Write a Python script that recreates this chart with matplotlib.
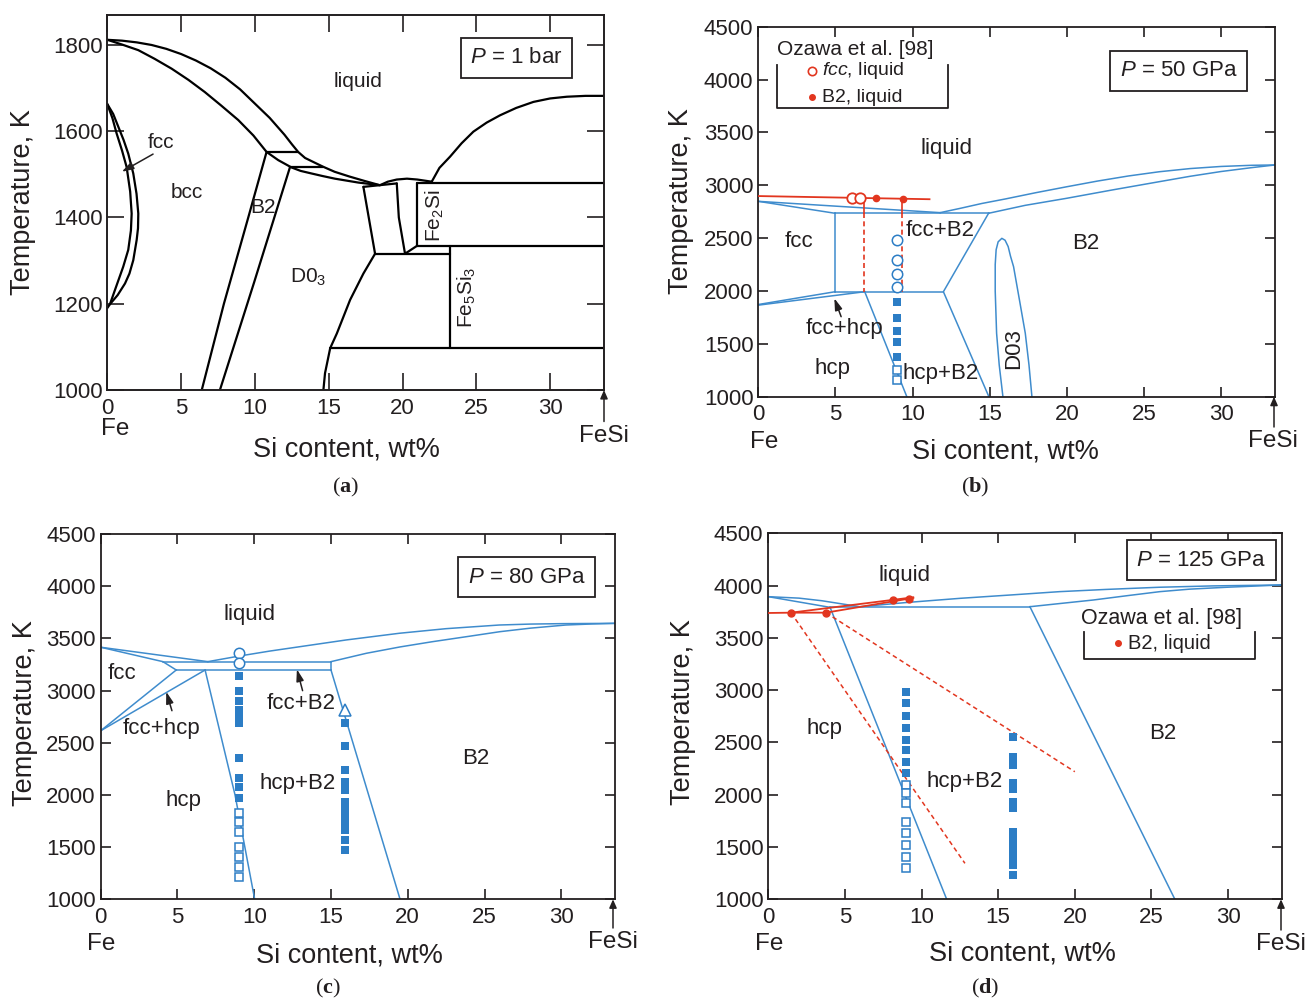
import matplotlib
matplotlib.use("Agg")
import matplotlib.pyplot as plt

plt.rcParams["font.family"] = ["Liberation Sans", "DejaVu Sans"]
plt.rcParams["mathtext.fontset"] = "custom"
plt.rcParams["mathtext.rm"] = "Liberation Sans"
plt.rcParams["mathtext.it"] = "Liberation Sans:italic"
plt.rcParams["mathtext.bf"] = "Liberation Serif:bold"

TXT = "#231f20"
BLUE = "#3f8ccd"
MBLUE = "#2c7dc5"
RED = "#e2361f"

x_ticks = [0, 5, 10, 15, 20, 25, 30]

# ---------------- (a) P = 1 bar ----------------
a_T_ticks = [1000, 1200, 1400, 1600, 1800]
a_liquidus_fe_x = [0, 1, 2, 3, 4, 5, 6, 7, 8, 9, 10, 11, 12, 12.5, 12.93, 13.4, 14.0, 14.6, 15.4, 16.4, 17.4, 18.45]
a_liquidus_fe_T = [1812, 1810, 1806, 1800, 1791, 1779, 1764, 1746, 1724, 1697, 1664, 1631, 1592, 1570, 1552, 1538, 1528, 1518, 1506, 1495, 1485, 1475]
a_solidus_x = [0, 1.0, 2.1, 3.2, 4.36, 5.5, 6.6, 7.7, 8.87, 9.9, 10.79, 11.58, 12.48, 13.1, 13.84, 14.6, 15.42, 17.0, 18.45]
a_solidus_T = [1812, 1801, 1788, 1768, 1745, 1719, 1691, 1660, 1626, 1590, 1552, 1533, 1516, 1508, 1502, 1496, 1490, 1481, 1475]
a_gamma_outer_x = [0, 0.4, 0.75, 1.1, 1.42, 1.76, 1.98, 2.10, 2.08, 1.99, 1.76, 1.5, 1.2, 0.7, 0.18, 0]
a_gamma_outer_T = [1663, 1640, 1610, 1580, 1548, 1502, 1455, 1409, 1375, 1348, 1301, 1270, 1247, 1220, 1199, 1190]
a_gamma_inner_x = [0, 0.35, 0.63, 1.0, 1.31, 1.55, 1.65, 1.6, 1.42, 1.08, 0.52, 0.18]
a_gamma_inner_T = [1663, 1630, 1595, 1555, 1517, 1460, 1409, 1370, 1325, 1286, 1232, 1199]
a_bcc_b2_x = [10.79, 9.55, 7.9, 6.40]
a_bcc_b2_T = [1552, 1400, 1200, 1000]
a_b2_d03_x = [12.37, 9.95, 7.63]
a_b2_d03_T = [1516, 1250, 1000]
a_tie_upper_x = [10.79, 12.93]
a_tie_upper_T = [1552, 1552]
a_tie_lower_x = [12.37, 14.6]
a_tie_lower_T = [1516, 1516]
a_d03_edge_x = [18.14, 17.35, 16.45, 15.55, 15.1, 14.75, 14.64]
a_d03_edge_T = [1316, 1270, 1209, 1131, 1097, 1039, 1000]
a_dome_x = [18.48, 19.0, 19.61, 20.3, 21.0, 21.98]
a_dome_T = [1475, 1483, 1488, 1490, 1488, 1483]
a_liquidus_si_x = [21.98, 22.5, 23.22, 24.0, 24.8, 25.7, 26.61, 27.7, 28.87, 30.0, 31.13, 32.4, 33.65]
a_liquidus_si_T = [1483, 1515, 1541, 1572, 1599, 1620, 1637, 1654, 1668, 1676, 1680, 1682, 1682]
a_quad_left_x = [17.35, 18.14]
a_quad_left_T = [1471, 1316]
a_quad_top_x = [17.35, 19.61]
a_quad_top_T = [1471, 1479]
a_quad_right_x = [19.61, 19.75, 20.17, 20.97]
a_quad_right_T = [1479, 1400, 1316, 1334]
a_fe2si_left_x = [20.97, 20.97]
a_fe2si_left_T = [1334, 1480]
a_fe2si_top_x = [20.97, 33.65]
a_fe2si_top_T = [1480, 1480]
a_fe2si_bottom_x = [20.97, 33.65]
a_fe2si_bottom_T = [1334, 1334]
a_eutectoid_x = [18.14, 23.22]
a_eutectoid_T = [1316, 1316]
a_fe5si3_x = [23.22, 23.22]
a_fe5si3_T = [1334, 1097]
a_low_x = [15.1, 33.65]
a_low_T = [1097, 1097]

# ---------------- (b) P = 50 GPa ----------------
hp_T_ticks = [1000, 1500, 2000, 2500, 3000, 3500, 4000, 4500]
b_fcc_liq_x = [0, 11.79]
b_fcc_liq_T = [2848, 2741]
b_fcc_sol_x = [0, 4.98]
b_fcc_sol_T = [2848, 2735]
b_b2_liq_x = [11.79, 13.1, 14.5, 16, 18, 20, 22, 24, 26, 28, 30, 32, 33.5]
b_b2_liq_T = [2741, 2782, 2828, 2870, 2930, 2986, 3040, 3088, 3128, 3158, 3178, 3189, 3192]
b_b2_sol_x = [14.93, 17.3, 20, 23, 26, 28, 30, 32, 33.5]
b_b2_sol_T = [2735, 2810, 2877, 2957, 3034, 3085, 3130, 3167, 3192]
b_eutectic_x = [4.98, 14.93]
b_eutectic_T = [2735, 2735]
b_fcc_edge_x = [4.98, 4.98]
b_fcc_edge_T = [2735, 1993]
b_b2_edge_x = [14.93, 12.0, 14.95]
b_b2_edge_T = [2735, 1993, 1000]
b_eutectoid_x = [4.98, 12.0]
b_eutectoid_T = [1993, 1993]
b_fcc_hcp_upper_x = [0, 4.98]
b_fcc_hcp_upper_T = [1872, 1993]
b_fcc_hcp_lower_x = [0, 6.9]
b_fcc_hcp_lower_T = [1866, 1993]
b_hcp_edge_x = [6.9, 9.63]
b_hcp_edge_T = [1993, 1000]
b_d03_x = [15.86, 15.62, 15.45, 15.36, 15.36, 15.42, 15.55, 15.79, 16.0, 16.2, 16.35, 16.55, 16.95, 17.31, 17.55, 17.74]
b_d03_T = [1000, 1300, 1600, 2000, 2250, 2390, 2465, 2498, 2480, 2420, 2330, 2230, 1900, 1600, 1300, 1000]
b_red_liq_x = [0, 11.1]
b_red_liq_T = [2898, 2868]
b_red_open_x = [6.06, 6.6]
b_red_open_T = [2880, 2879]
b_red_dot_x = [7.62, 9.41]
b_red_dot_T = [2877, 2873]
b_red_drop_x = [6.85, 9.3]
b_red_drop_T = [2878, 2735, 1993]
b_sample_x = 9.0
b_open_circle_T = [2482, 2293, 2161, 2035]
b_filled_square_T = [1895, 1742, 1618, 1518, 1378]
b_open_square_T = [1252, 1155]

# ---------------- (c) P = 80 GPa ----------------
c_fcc_liq_x = [0, 6.98]
c_fcc_liq_T = [3415, 3277]
c_fcc_sol_x = [0, 4.05, 4.92]
c_fcc_sol_T = [3415, 3277, 3197]
c_fcc_b2_top_x = [4.05, 15.0]
c_fcc_b2_top_T = [3277, 3277]
c_fcc_b2_bottom_x = [4.92, 15.0]
c_fcc_b2_bottom_T = [3197, 3197]
c_b2_step_x = [15.0, 15.0]
c_b2_step_T = [3197, 3277]
c_b2_liq_x = [6.98, 9, 11, 12.96, 16, 19.46, 22.5, 25.96, 28, 30, 33.5]
c_b2_liq_T = [3277, 3330, 3378, 3420, 3485, 3549, 3593, 3628, 3637, 3641, 3644]
c_b2_sol_x = [15.0, 17.3, 19.5, 21.6, 24, 26, 28, 30.3, 32, 33.5]
c_b2_sol_T = [3277, 3357, 3418, 3468, 3520, 3564, 3598, 3628, 3638, 3644]
c_fcc_hcp_upper_x = [0, 4.92]
c_fcc_hcp_upper_T = [2615, 3197]
c_fcc_hcp_lower_x = [0, 6.8]
c_fcc_hcp_lower_T = [2615, 3197]
c_hcp_edge_x = [6.8, 8.75, 10.03]
c_hcp_edge_T = [3197, 2000, 1000]
c_b2_edge_x = [15.0, 19.5]
c_b2_edge_T = [3197, 1000]
c_sample9_x = 9.0
c_open_circle_T = [3357, 3261]
c_filled9_T = [3143, 2996, 2900, 2814, 2744, 2686, 2351, 2159, 2073, 1968]
c_open9_T = [1824, 1743, 1648, 1498, 1408, 1307, 1217]
c_sample16_x = 15.9
c_triangle_T = [2814]
c_filled16_T = [2686, 2469, 2239, 2127, 2047, 1935, 1856, 1808, 1743, 1664, 1568, 1472]

# ---------------- (d) P = 125 GPa ----------------
d_hcp_liq_x = [0, 2.0, 3.5, 4.8, 5.98]
d_hcp_liq_T = [3894, 3880, 3855, 3825, 3798]
d_hcp_sol_x = [0, 4.03]
d_hcp_sol_T = [3894, 3792]
d_eutectic_x = [4.03, 17.07]
d_eutectic_T = [3798, 3798]
d_b2_liq_x = [5.98, 9, 12.5, 16, 19, 22, 25.5, 29, 33.5]
d_b2_liq_T = [3798, 3838, 3878, 3912, 3942, 3963, 3984, 3997, 4006]
d_b2_sol_x = [17.07, 19, 21.2, 23.5, 25.55, 27.5, 29.9, 33.5]
d_b2_sol_T = [3798, 3828, 3862, 3905, 3942, 3966, 3984, 4006]
d_hcp_edge_x = [4.03, 11.64]
d_hcp_edge_T = [3792, 1000]
d_b2_edge_x = [17.07, 26.53]
d_b2_edge_T = [3798, 1000]
d_red_flat_x = [0, 1.48, 3.76]
d_red_flat_T = [3738, 3741, 3741]
d_red_rise_a_x = [1.48, 9.46]
d_red_rise_a_T = [3741, 3888]
d_red_rise_b_x = [3.76, 9.46]
d_red_rise_b_T = [3741, 3882]
d_red_dot_x = [1.48, 3.76, 8.15, 9.2]
d_red_dot_T = [3741, 3741, 3866, 3872]
d_red_dash_a_x = [1.48, 12.83]
d_red_dash_a_T = [3741, 1344]
d_red_dash_b_x = [3.76, 20.0]
d_red_dash_b_T = [3741, 2220]
d_sample9_x = 9.0
d_filled9_T = [2985, 2880, 2753, 2635, 2523, 2428, 2316, 2205]
d_open9_T = [2093, 2014, 1918, 1742, 1637, 1519, 1407, 1302]
d_sample16_x = 15.94
d_filled16_T = [2555, 2364, 2284, 2109, 2050, 1933, 1870, 1646, 1583, 1519, 1455, 1392, 1328, 1232]

W, H = 1307, 1002
fig = plt.figure(figsize=(W / 100, H / 100), dpi=100)
fig.patch.set_facecolor("white")


def pbox(l, r, t, b):
    return [l / W, 1 - b / H, (r - l) / W, (b - t) / H]


def ftext(px, py, s, **kw):
    kw.setdefault("color", TXT)
    fig.text(px / W, 1 - py / H, s, **kw)


def farrow(px, py_tail, py_tip):
    fig.add_artist(matplotlib.patches.FancyArrowPatch(
        (px / W, 1 - py_tail / H), (px / W, 1 - py_tip / H),
        transform=fig.transFigure, arrowstyle="-|>,head_length=5,head_width=2.2",
        color=TXT, lw=1.1, shrinkA=0, shrinkB=0))


def style(ax, xmax, ylim, yticks, ticklen, lw):
    ax.set_xlim(0, xmax)
    ax.set_ylim(*ylim)
    ax.set_xticks(x_ticks)
    ax.set_yticks(yticks)
    ax.tick_params(direction="in", top=True, right=True, length=ticklen,
                   width=1.2, colors=TXT, labelcolor=TXT, labelsize=16)
    ax.tick_params(axis="x", pad=5.5)
    ax.tick_params(axis="y", pad=3.5)
    for s in ax.spines.values():
        s.set_color(TXT)
        s.set_linewidth(lw)


def pbox_label(ax, x, y, s):
    ax.text(x, y, s, ha="center", va="center", fontsize=16, color=TXT,
            bbox=dict(boxstyle="square,pad=0.42", fc="white", ec=TXT, lw=1.3))


def label(ax, x, y, s, size=16, **kw):
    ax.text(x, y, s, ha="center", va="center", fontsize=size, color=TXT, **kw)


def pointer(ax, tail, tip):
    ax.annotate("", xy=tip, xytext=tail,
                arrowprops=dict(arrowstyle="-|>,head_length=0.7,head_width=0.22",
                                color=TXT, lw=1.1, shrinkA=0, shrinkB=0))


def column(ax, x, Ts, marker, filled, ms, color=MBLUE):
    ax.plot([x] * len(Ts), Ts, ls="none", marker=marker, ms=ms,
            mfc=color if filled else "white", mec=color,
            mew=0 if filled else 1.1, zorder=5)


def frame_text(ax_right, ax_bottom, fe_x, fesi_x, fe_base, fesi_base,
               xl_x, xl_base, yl_x, yl_y):
    ftext(fe_x, fe_base, "Fe", fontsize=17.5, ha="center", va="baseline")
    ftext(fesi_x, fesi_base, "FeSi", fontsize=17.5, ha="center", va="baseline")
    farrow(ax_right, fesi_base - 20, ax_bottom)
    ftext(xl_x, xl_base, "Si content, wt%", fontsize=19.5, ha="center", va="baseline")
    ftext(yl_x, yl_y, "Temperature, K", fontsize=19.5, ha="center", va="center",
          rotation=90)


# ===================== panel (a) =====================
ax = fig.add_axes(pbox(107.3, 604, 15, 390))
style(ax, 33.65, (1000, 1869.5), a_T_ticks, 12, 1.4)
kb = dict(color="black", lw=1.6, solid_capstyle="round", solid_joinstyle="round")
for xs, ts in [
    (a_liquidus_fe_x, a_liquidus_fe_T), (a_solidus_x, a_solidus_T),
    (a_gamma_outer_x, a_gamma_outer_T), (a_gamma_inner_x, a_gamma_inner_T),
    (a_bcc_b2_x, a_bcc_b2_T), (a_b2_d03_x, a_b2_d03_T),
    (a_tie_upper_x, a_tie_upper_T), (a_tie_lower_x, a_tie_lower_T),
    (a_d03_edge_x, a_d03_edge_T), (a_dome_x, a_dome_T),
    (a_liquidus_si_x, a_liquidus_si_T), (a_quad_left_x, a_quad_left_T),
    (a_quad_top_x, a_quad_top_T), (a_quad_right_x, a_quad_right_T),
    (a_fe2si_left_x, a_fe2si_left_T), (a_fe2si_top_x, a_fe2si_top_T),
    (a_fe2si_bottom_x, a_fe2si_bottom_T), (a_eutectoid_x, a_eutectoid_T),
    (a_fe5si3_x, a_fe5si3_T), (a_low_x, a_low_T)]:
    ax.plot(xs, ts, **kb)
label(ax, 17.0, 1716, "liquid", 15)
label(ax, 5.4, 1458, "bcc", 15)
label(ax, 10.55, 1422, "B2", 15)
label(ax, 13.6, 1262, "D0$_3$", 15)
label(ax, 3.63, 1574, "fcc", 15)
pointer(ax, (3.1, 1547), (0.98, 1506))
label(ax, 22.2, 1405, "Fe$_2$Si", 15, rotation=90)
label(ax, 24.35, 1216, "Fe$_5$Si$_3$", 15, rotation=90)
pbox_label(ax, 27.73, 1770, "$P$ = 1 bar")
frame_text(604, 390, 115, 604, 435, 441.5, 346, 457, 22.7, 202)

# ===================== panel (b) =====================
ax = fig.add_axes(pbox(758.3, 1275, 26.7, 396.7))
style(ax, 33.5, (1000, 4500), hp_T_ticks, 7, 1.3)
kl = dict(color=BLUE, lw=1.1)
for xs, ts in [
    (b_fcc_liq_x, b_fcc_liq_T), (b_fcc_sol_x, b_fcc_sol_T),
    (b_b2_liq_x, b_b2_liq_T), (b_b2_sol_x, b_b2_sol_T),
    (b_eutectic_x, b_eutectic_T), (b_fcc_edge_x, b_fcc_edge_T),
    (b_b2_edge_x, b_b2_edge_T), (b_eutectoid_x, b_eutectoid_T),
    (b_fcc_hcp_upper_x, b_fcc_hcp_upper_T), (b_fcc_hcp_lower_x, b_fcc_hcp_lower_T),
    (b_hcp_edge_x, b_hcp_edge_T), (b_d03_x, b_d03_T)]:
    ax.plot(xs, ts, **kl)
ax.plot(b_red_liq_x, b_red_liq_T, color=RED, lw=1.3, zorder=4)
for xv in b_red_drop_x:
    ax.plot([xv, xv], b_red_drop_T[:2], color=RED, lw=1.2, zorder=4)
    ax.plot([xv, xv], b_red_drop_T[1:], color=RED, lw=1.2, ls=(0, (3, 2)), zorder=4)
ax.plot(b_red_open_x, b_red_open_T, ls="none", marker="o", ms=7.5, mfc="white",
        mec=RED, mew=1.3, zorder=6)
ax.plot(b_red_dot_x, b_red_dot_T, ls="none", marker="o", ms=4.5, color=RED, zorder=6)
column(ax, b_sample_x, b_open_circle_T, "o", False, 7.5)
column(ax, b_sample_x, b_filled_square_T, "s", True, 5.5)
column(ax, b_sample_x, b_open_square_T, "s", False, 5.8)
label(ax, 12.2, 3350, "liquid")
label(ax, 2.63, 2470, "fcc")
label(ax, 11.8, 2575, "fcc+B2")
label(ax, 5.62, 1648, "fcc+hcp")
pointer(ax, (5.37, 1757), (4.93, 1931))
label(ax, 4.84, 1270, "hcp")
label(ax, 11.8, 1222, "hcp+B2")
label(ax, 21.2, 2452, "B2")
label(ax, 16.53, 1460, "D03", rotation=90)
pbox_label(ax, 27.24, 4083, "$P$ = 50 GPa")
ax.plot([1.19, 1.19, 12.33, 12.33], [4138, 3728, 3728, 4138], color=TXT, lw=1.3)
label(ax, 6.28, 4285, "Ozawa et al. [98]", 15)
ax.plot([3.47], [4085], ls="none", marker="o", ms=6, mfc="white", mec=RED, mew=1.2)
ax.text(4.11, 4085, "$fcc$, liquid", ha="left", va="center", fontsize=14, color=TXT)
ax.plot([3.47], [3835], ls="none", marker="o", ms=4, color=RED)
ax.text(4.11, 3835, "B2, liquid", ha="left", va="center", fontsize=14, color=TXT)
frame_text(1274, 396.7, 764, 1273, 448, 447, 1005, 458, 681, 201)

# ===================== panel (c) =====================
ax = fig.add_axes(pbox(100.7, 615, 534, 899.3))
style(ax, 33.5, (1000, 4500), hp_T_ticks, 7, 1.3)
for xs, ts in [
    (c_fcc_liq_x, c_fcc_liq_T), (c_fcc_sol_x, c_fcc_sol_T),
    (c_fcc_b2_top_x, c_fcc_b2_top_T), (c_fcc_b2_bottom_x, c_fcc_b2_bottom_T),
    (c_b2_step_x, c_b2_step_T), (c_b2_liq_x, c_b2_liq_T), (c_b2_sol_x, c_b2_sol_T),
    (c_fcc_hcp_upper_x, c_fcc_hcp_upper_T), (c_fcc_hcp_lower_x, c_fcc_hcp_lower_T),
    (c_hcp_edge_x, c_hcp_edge_T), (c_b2_edge_x, c_b2_edge_T)]:
    ax.plot(xs, ts, **kl)
column(ax, c_sample9_x, c_open_circle_T, "o", False, 7.5)
column(ax, c_sample9_x, c_filled9_T, "s", True, 5.5)
column(ax, c_sample9_x, c_open9_T, "s", False, 5.8)
column(ax, c_sample16_x, c_triangle_T, "^", False, 8)
column(ax, c_sample16_x, c_filled16_T, "s", True, 5.5)
label(ax, 9.7, 3733, "liquid")
label(ax, 1.37, 3165, "fcc")
label(ax, 3.94, 2638, "fcc+hcp")
pointer(ax, (4.64, 2807), (4.27, 2989))
label(ax, 13.04, 2878, "fcc+B2")
pointer(ax, (13.15, 2999), (12.78, 3204))
label(ax, 5.37, 1951, "hcp")
label(ax, 12.8, 2111, "hcp+B2")
label(ax, 24.45, 2352, "B2")
pbox_label(ax, 27.73, 4085, "$P$ = 80 GPa")
frame_text(613, 899.3, 101, 613, 950, 948, 349, 963, 25, 713)

# ===================== panel (d) =====================
ax = fig.add_axes(pbox(768.3, 1281.7, 533.3, 899.3))
style(ax, 33.5, (1000, 4500), hp_T_ticks, 7, 1.3)
for xs, ts in [
    (d_hcp_liq_x, d_hcp_liq_T), (d_hcp_sol_x, d_hcp_sol_T),
    (d_eutectic_x, d_eutectic_T), (d_b2_liq_x, d_b2_liq_T), (d_b2_sol_x, d_b2_sol_T),
    (d_hcp_edge_x, d_hcp_edge_T), (d_b2_edge_x, d_b2_edge_T)]:
    ax.plot(xs, ts, **kl)
for xs, ts in [(d_red_flat_x, d_red_flat_T), (d_red_rise_a_x, d_red_rise_a_T),
               (d_red_rise_b_x, d_red_rise_b_T)]:
    ax.plot(xs, ts, color=RED, lw=1.3, zorder=4)
for xs, ts in [(d_red_dash_a_x, d_red_dash_a_T), (d_red_dash_b_x, d_red_dash_b_T)]:
    ax.plot(xs, ts, color=RED, lw=1.1, ls=(0, (3, 2.2)), zorder=4)
ax.plot(d_red_dot_x, d_red_dot_T, ls="none", marker="o", ms=5, color=RED, zorder=6)
column(ax, d_sample9_x, d_filled9_T, "s", True, 5.5)
column(ax, d_sample9_x, d_open9_T, "s", False, 5.8)
column(ax, d_sample16_x, d_filled16_T, "s", True, 5.5)
label(ax, 8.86, 4101, "liquid")
label(ax, 3.69, 2638, "hcp")
label(ax, 12.83, 2123, "hcp+B2")
label(ax, 25.75, 2590, "B2")
pbox_label(ax, 28.25, 4242, "$P$ = 125 GPa")
ax.plot([20.59, 20.59, 31.75, 31.75], [3559, 3298, 3298, 3559], color=TXT, lw=1.3)
label(ax, 25.66, 3687, "Ozawa et al. [98]", 15.5)
ax.plot([22.83], [3448], ls="none", marker="o", ms=4, color=RED)
ax.text(23.48, 3448, "B2, liquid", ha="left", va="center", fontsize=14.5, color=TXT)
frame_text(1281, 899.3, 769, 1281, 950, 950, 1022, 961, 683, 712)

# panel letters
for px, py, s in [(346, 487, "a"), (975, 487, "b"), (328, 988, "c"), (985, 988, "d")]:
    ftext(px, py, "($\\mathbf{" + s + "}$)", fontsize=16, ha="center", va="center",
          family=["Liberation Serif", "DejaVu Serif"])

fig.savefig("out.png", dpi=100, facecolor="white")
